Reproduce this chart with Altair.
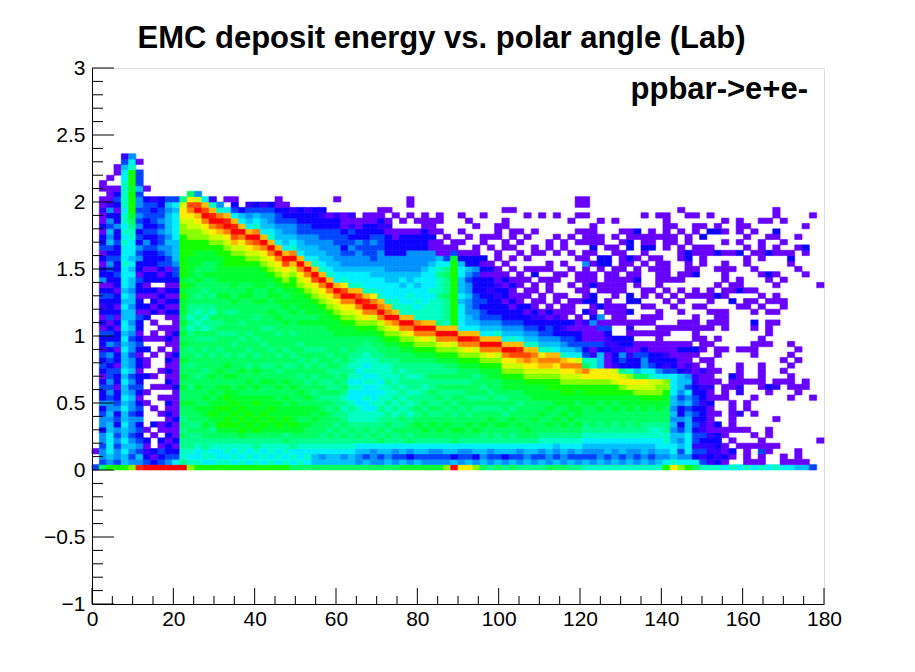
import altair as alt
import pandas as pd

# ---- histogram binning (ROOT TH2: 100 bins 0..180 deg, 100 bins -1..3 GeV) ----
X_BIN = 1.8
Y_BIN = 0.04

# colour level codes (ROOT rainbow palette, low -> high)
levels = list("123456789abcdefghijk")
level_colors = ["#6600ff", "#3300ff", "#0d00ff", "#0044ff", "#0090ff", "#00c0ff",
                "#00f0ff", "#00ffc4", "#00ff8c", "#00ff60", "#00ff30", "#11ff00",
                "#88ff00", "#ccff00", "#ffee00", "#ffbb00", "#ff8000", "#ff4a00",
                "#ff2400", "#ff0000"]

# one string per theta bin, read bottom (E=0) to top, '.' = empty bin
columns = [
    "4..1",
    "a455455355 4353343134 3423341313 2343153313 1433131121 1.11",
    "c567777665 6554545443 4535343143 3343133454 3465645352 111.1",
    "c455454534 3543313341 3314331313 1331334334 3343353313 431..11",
    "c667676676 6767667676 6676767766 7676777787 7787878878 888877642",
    "d545654555 4556545465 5455456566 5665667676 777889abcc ccbccc875",
    "j564543435 3431343313 3134313341 3313341335 4534354545 546444.1",
    "k43213.1.. ..1.1..3.1 1.3.1...31 3.13133133 3453433444 3.1",
    "k313..1.3. .1...1.1.. .1..11.1.3 1313.33133 3433434434 2",
    "k43413.11. 1..1.1..1. ..1.1.1..1 3131.31343 4544545443 3",
    "k543313131 3131.13131 31.1311.13 1313133144 5565666656 4",
    "k743131113 1111131111 1311131113 1313134456 6667777767 4",
    "k98899a9a9 aabaababaa baabababab bbcbcbcccc ccccddeffe 9",
    "d878999a9a aabaa9aaa9 aa9aa98989 9aaababbbb cccddeefhi fa",
    "c877899a9a abaaaba9aa a9aa9a9898 9a9aabaabb bccddefgki e5",
    "c78899aaba bbabaaaa9a aa9a9a8989 9aa9aabaab bccdefhkig 7",
    "c78789a9ab cbbabaabaa a9aa9a99a8 9a9aaabaab bcdefhkjg8 2",
    "c87789abcb bcbbabaaba aa9aa9a9aa aabaabbbbb ccdegikh85",
    "c87889abcc bcbcbbabab a9aaa9aaa9 aabaabbbcc cdefhkjg7. 1",
    "c78789abcb cbcbbaabaa aaa9a9aaa9 abaabbbbcc degikjg743 1",
    "c87889bcbc bcbbabaaba a9aa9aa9aa aabaabbbcc defhkg763.",
    "c78789abcb cbbbaabaa9 aa9aa9aaaa aabbabbbcd efhkg76542",
    "c87899acbc bbcbabaaba a9aa9aaa9a abaabbbbcd egikh87643",
    "c78789abcb cbbbaabaa9 aaa9aa9aaa abaabbbcde fhkg766542",
    "c87889abbc bcbbaabaa9 aa9aaa9aab aabbabcdef hkg8765543",
    "c78789abcb bbbaabaa9a a9aaa9aaba abbabcdefh kg76654431 1",
    "c8788a9bbc bbabaabaa9 aa9aaaabaa bbabcdefik g766554331",
    "a78799abcb bbbaabaaa9 a9aaa9aaab abbbccdegk h87655432.",
    "a87789abba bbaabaa9aa 9aa9aaabaa bbbcdefhkg 766544333.",
    "a78789aaba bbabaa9aa9 aa9aaaabab bbcdefhkg7 665544332.",
    "a66789aaab abaa9aa9aa 9a9aaaabab bcdefikg87 665543333.",
    "a657899aaa baa9aa9aa9 aa9aaaabbb cdefhkg876 655443323.",
    "a66789a9aa a9a9a99a9a a9aaaabbbc defhkg8766 55544331..",
    "a667899a9a 9a99a9a99a 9aaaabbbcd efhkg77665 55444332.. 1",
    "a65789a9a9 98989a9a99 aa9aabbcde fhkif87655 43443111..",
    "a667899a98 8987787898 99aaabbcde fhkg877655 45434212..",
    "a55679a998 8877787878 899aabcdef hkig877655 5453311...",
    "a646799a98 8778778787 8899abcdfh kjg8777655 44433311..",
    "a55579a998 8787778788 899aabcdeh khf8776654 44543311..",
    "a5467a9a99 8988787888 99aabcdehk hg87776655 544432311.",
    "a65679a9a9 9898889888 9aabcdegkh g877766555 3333121.1.",
    "a545799a99 8989898899 9aabcdfhkg 8877766555 33311..1..",
    "b64679aa9a 9898989989 aabcdehkg8 8777676555 33331.1...",
    "b5357a9aa9 8989899899 aabcdfhkg8 8787766555 53331..1.1 1",
    "b64679aaba 9a99899899 abcdehkh88 7877676555 53331.1...",
    "b54679abaa a9a9989999 abcdfhkg88 8777777655 53333111..",
    "b54579aaba 9a99a99a99 abcdehkg88 8878777765 5113111...",
    "b54579abaa 9a9a9a9a99 bcdehkg988 8898889876 111.1.11..",
    "d54679aaba a9a99a9a9a bcdfhkg899 99a999a974 11.1",
    "k6367aabaa 9a9a9a9a9a bcdehkgccc cccccccccb 411",
    "f54579abaa a9aa9a9aab cdehkg7777 7676667763 1.1.1..1",
    "f64579aaba 9aa9aa9aab cdfhkg7665 5565545633 1..1..1",
    "d53679abaa a9a9aaa9ab cdehjg7655 4443334533 11...1",
    "a656799aba a9a9a9aabc dehkg76544 3433331313 ..11...1",
    "954579aaab a9aa9aabbc dfhkg76543 333233131. .1.1",
    "a646799aba a9a9aaabbc dehkg86543 33232111.1 1..111",
    "953679aaba 9aa9abbcde fhkg765433 3133131.1. .11..11.1",
    "a646799aab a9aaabbcde fikg865433 131131.1.1 .1.11...1",
    "954579aaba aa9aabbcde gijg765433 311.111... 1.1.1",
    "965679abaa aaaabbcdef hig8654331 3.11.1.1.1 ...1...1",
    "954679aaab aaabbbcdef ghg8654323 11.11.31.. 11..1",
    "9645789aaa baabbbcdeg hf86543321 .11..1.1.. 1......1",
    "a556789aba ababbccdeg hg86544313 1..111.11. .11",
    "a645689aab aabbbccdef hg76533321 .11..11... 1..1...1",
    "a556789aba babbccdefh g865432311 1.1...1.1. .11",
    "9645789aab abbbccdefh f7644313.1 11..1..1.. 1..1..1",
    "9546789aba bbabbcdegh e75433111. .1.1.11..1 ..1.1..1.1 1",
    "864567899a aabbccdfha 84341112.3 .311111151 1.111..1.1 1",
    "85456789aa aabbccdff8 8214111531 133.311.1. 131111",
    "865567899a ababccdff6 663411415. 3..11..133 ..11..1",
    "85466789aa aabbccdff1 11322341.1 11.1111.33 .1",
    "865567899a ababccefe2 33223..111 1.111111.. 11.1..1",
    "85466789aa aabbcdfe93 45233..111 1..111.111 1.1.1",
    "865567899a abbbcefd83 32133121.3 .33..11.13 .3311",
    "85456789aa aabbdefa63 3411.1.1.. .3..1311.1 ...13",
    "865667899a abbcdefa75 5431.1.11. 1.11....1. 1311...1",
    "854567889a aabcdee874 3311.1.11. 1..1...1.1 .3111",
    "865677889a abbcdde753 3311111.11 ..1.111111 ...1...1",
    "c75678899a aabbcdd742 3211.11... .1.1.1111. .1111111",
    "f867766565 6566777743 3111..1... 1.1..1.... ..11.1",
    "d754656435 3354566631 1131..11.1 .1.1.11..1 11..1...1",
    "c757777666 5465746522 1131..11.. ..1...1113 3.11...1",
    "a734244343 4344332211 .13.11111. 1.11..31.. 11..11.1",
    "8424234223 332332112. 1.111.1... 1.1.....11 11.3.1",
    "8232232111 1131121111 1..1..11.1 .111...... 11..3..1",
    "832233313. 1..1..1.1. .11.1..111 ..3.1..1.. 3...31",
    "71311.11.. ...111.... ..1...1111 ..11.1111. 1.1.1.1",
    "8.13.1.111 111..113.. .......... .3.11..1.. 1",
    "7...1..1.. 2...221111 ..1....... 1..311.... 3.1.111",
    "81111..1.. .11...1... ..1....... 11.1....11 .1.1.1",
    "71..1.1... 1..1..1... .111..13.1 .1.1...1.. 1...1",
    "811411.... .....11111 ...11..... 1.1...1..1 111...1",
    "7..11.11.. ....13.... ...1.111.1 .1...13... 3..1..1",
    "8...1....1 .....21... .......1.1 .11.1.1... 11.13..11",
    "711....... ......1.1. 1......... 11...1.... 1.1...1",
    "71........ ...1.111.1 .1.1...... ........13 1",
    "6111...... ....11.... 1.1....... .......1.. .1.1",
    "61........ .....11... .......... ......1... 13...1",
    "4......... ...1...... .......... .......... .......1",
    ".....1.... .......... .......... ....1",
]

x_major = [0, 20, 40, 60, 80, 100, 120, 140, 160, 180]
x_minor = [v for v in range(5, 180, 5) if v % 20 != 0]
y_major = [-1, -0.5, 0, 0.5, 1, 1.5, 2, 2.5, 3]
y_minor = [round(-1 + 0.1 * k, 2) for k in range(41) if k % 5 != 0]

title_text = "EMC deposit energy vs. polar angle (Lab)"
label_text = "ppbar->e+e-"

records = []
for i, col in enumerate(columns):
    for j, ch in enumerate(col.replace(" ", "")):
        if ch != ".":
            records.append({"x0": round(i * X_BIN, 4), "x1": round((i + 1) * X_BIN, 4),
                            "y0": round(j * Y_BIN, 4), "y1": round((j + 1) * Y_BIN, 4),
                            "lvl": ch})
cells = pd.DataFrame(records)

W, H = 732, 536
FONT = "Liberation Sans"
xscale = alt.Scale(domain=[0, 180], nice=False, zero=False)
yscale = alt.Scale(domain=[-1, 3], nice=False, zero=False)
cscale = alt.Scale(domain=levels, range=level_colors)

xaxis = alt.Axis(values=x_major, title=None, ticks=False, tickSize=0, grid=False,
                 labelPadding=4, labelFontSize=21, labelFont=FONT, labelColor="black",
                 labelFlush=False, labelOverlap=False, domainColor="black", domainWidth=1,
                 zindex=1, format="d")
yaxis = alt.Axis(values=y_major, title=None, ticks=False, tickSize=0, grid=False,
                 labelPadding=7, labelFontSize=21, labelFont=FONT, labelColor="black",
                 labelFlush=False, labelOverlap=False, domainColor="black", domainWidth=1,
                 zindex=1, format="~g")

heat = alt.Chart(cells).mark_rect(strokeWidth=0.6).encode(
    x=alt.X("x0:Q", scale=xscale, axis=xaxis),
    x2="x1:Q",
    y=alt.Y("y0:Q", scale=yscale, axis=yaxis),
    y2="y1:Q",
    color=alt.Color("lvl:N", scale=cscale, legend=None),
    stroke=alt.Stroke("lvl:N", scale=cscale, legend=None),
)

def xticks(vals, length):
    return alt.Chart(pd.DataFrame({"x0": vals})).mark_rule(color="black", strokeWidth=1).encode(
        x=alt.X("x0:Q", scale=xscale, axis=xaxis),
        y=alt.value(H), y2=alt.value(H - length))

def yticks(vals, length):
    return alt.Chart(pd.DataFrame({"y0": vals})).mark_rule(color="black", strokeWidth=1).encode(
        y=alt.Y("y0:Q", scale=yscale, axis=yaxis),
        x=alt.value(0), x2=alt.value(length))

title = alt.Chart(pd.DataFrame({"t": [title_text]})).mark_text(
    font=FONT, fontSize=31, fontWeight="bold", color="black", align="center",
    baseline="alphabetic").encode(text="t:N", x=alt.value(349.5), y=alt.value(-20))

note = alt.Chart(pd.DataFrame({"t": [label_text]})).mark_text(
    font=FONT, fontSize=31, fontWeight="bold", color="black", align="right",
    baseline="alphabetic").encode(text="t:N", x=alt.value(716), y=alt.value(31))

chart = alt.layer(
    heat,
    xticks(x_major, 16), xticks(x_minor, 8),
    yticks(y_major, 22), yticks(y_minor, 11),
    title, note,
).properties(
    width=W, height=H,
    autosize=alt.AutoSizeParams(type="none"),
    padding={"left": 84, "top": 60, "right": 60, "bottom": 60},
).configure_view(stroke="black", strokeWidth=1).configure(background="white")

chart.save("out.html", embed_options={"renderer": "svg", "actions": False})
